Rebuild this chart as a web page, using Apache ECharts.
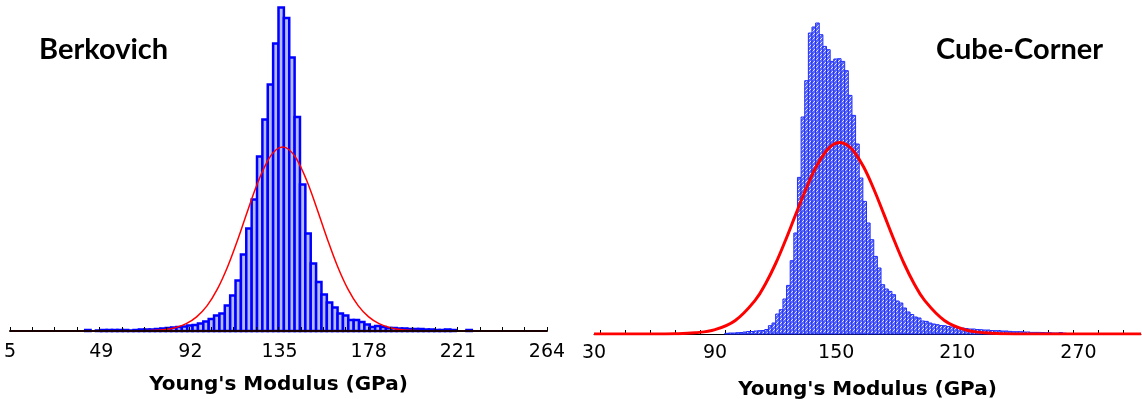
<!DOCTYPE html>
<html>
<head>
<meta charset="utf-8">
<script src="https://cdn.jsdelivr.net/npm/echarts@6/dist/echarts.min.js"></script>
<style>
  html, body { margin: 0; padding: 0; background: #fff; }
  #chart { width: 1142px; height: 399px; }
</style>
</head>
<body>
<div id="chart"></div>
<script>
// Berkovich histogram: 100 bins of 2.59 GPa starting at 5 GPa
const berkBinStart = 5;
const berkBinWidth = 2.59;
const berkCounts = [
  0, 0, 0, 0, 0, 0, 0, 0, 0, 0, 0, 0, 0, 0, 1, 0, 0.5, 1, 1, 1,
  1, 1, 0.5, 1, 1.5, 1.5, 1.5, 2, 2.5, 3, 3.5, 4, 4.5, 5.5, 6, 7.5, 9.5, 12, 15.5, 17.5,
  25.5, 35.5, 50.5, 76.5, 102.5, 131.5, 174.5, 211.5, 246.5, 287.5, 323.5, 313, 273.5, 214, 146.5, 97.5, 67.5, 49, 36.5, 28.5,
  23.5, 17.5, 15.5, 11, 11, 9, 6.5, 4, 5, 4, 3, 3, 2.5, 2.5, 2, 2, 2, 1.5, 1.5, 1,
  1, 1.5, 1, 0, 0, 1, 0, 0, 0, 0, 0, 0, 0, 0, 0, 0, 0, 0, 0, 0
];
// fitted normal curve
const berkFitX = [5, 60, 70, 80, 85, 90, 95, 100, 105, 110, 115, 120, 125, 130, 133.5, 136.5, 139.5, 143, 148, 153, 158, 163, 168, 173, 178, 183, 188, 193, 203, 213, 264];
const berkFitY = [0, 0, 0.3, 1.6, 3.5, 7.3, 14.1, 25.1, 41.8, 64.5, 92.3, 122.6, 151, 172.8, 181.5, 184, 181.5, 172.8, 151, 122.6, 92.3, 64.5, 41.8, 25.1, 14.1, 7.3, 3.5, 1.6, 0.3, 0, 0];
const berkTickLabels = [5, 49, 92, 135, 178, 221, 264];

// Cube-Corner histogram: 150 bins of 1.8 GPa starting at 30 GPa
const cubeBinStart = 30;
const cubeBinWidth = 1.8;
const cubeCounts = [
  0, 0, 0, 0, 0, 0, 0, 0, 0, 0, 0, 0, 0, 0, 0, 0, 0, 0, 0, 0,
  0, 0, 0, 0, 0, 0, 0, 0, 0, 0, 0, 0, 0, 0, 0, 0, 0.7, 1, 1, 1.3,
  1.5, 2, 2.5, 2.5, 3, 3.3, 3.5, 4.5, 8.3, 11, 20, 24.3, 35, 48.6, 73.3, 101, 156.6, 217, 253.3, 301,
  307, 311, 299.3, 287.6, 284.3, 272.6, 275, 275.3, 272.6, 263.3, 238.6, 218.6, 190, 156, 132.6, 111, 94.3, 77.6, 66, 49.3,
  45, 42.6, 39.3, 33, 31, 26, 22, 19.5, 17, 16, 13, 12.6, 11, 10, 9.3, 8.5, 8.3, 7.5, 7, 6.5,
  6, 6, 5.5, 5, 5, 4.5, 4.3, 4, 4, 3.5, 3.3, 3.3, 3, 3, 2.6, 2.3, 2.3, 2.3, 2, 2,
  1.6, 1.6, 1.6, 1.5, 1.3, 1.3, 1, 1, 1.5, 0.8, 0.5, 0.4, 0.4, 0.4, 0.4, 0.4, 0, 0, 0, 0,
  0, 0, 0, 0, 0, 0, 0, 0, 0, 0
];
const cubeFitX = [30, 60, 70, 80, 90, 100, 110, 115, 120, 125, 130, 135, 140, 145, 148.5, 151.8, 155, 158.6, 163.6, 168.6, 173.6, 178.6, 183.6, 188.6, 193.6, 203.6, 213.6, 223.6, 233.6, 243.6, 301];
const cubeFitY = [0, 0, 0.2, 1.2, 4.4, 13.5, 34.1, 50.3, 70.5, 94.3, 119.9, 145, 167, 183, 189.5, 191.6, 189.5, 183, 167, 145, 119.9, 94.3, 70.5, 50.3, 34.1, 13.5, 4.4, 1.2, 0.2, 0, 0];
const cubeTickLabels = [30, 90, 150, 210, 270];

function toBins(start, width, counts) {
  return counts.map((c, i) => [start + i * width, start + (i + 1) * width, c]);
}

function zip(xs, ys) {
  return xs.map((x, i) => [x, ys[i]]);
}

function tickList(start, step, end) {
  const out = [];
  for (let v = start; v <= end + 1e-6; v += step) out.push(+v.toFixed(3));
  return out;
}

function hatch() {
  const c = document.createElement('canvas');
  c.width = 4;
  c.height = 4;
  const g = c.getContext('2d');
  g.fillStyle = '#5b69f2';
  g.fillRect(0, 0, 4, 4);
  g.strokeStyle = '#e8ebff';
  g.lineWidth = 1;
  g.beginPath();
  g.moveTo(0, 4);
  g.lineTo(4, 0);
  g.stroke();
  return c;
}

function histItem(style) {
  return function (params, api) {
    const h = api.value(2);
    if (!h) return null;
    const a = api.coord([api.value(0), h]);
    const b = api.coord([api.value(1), 0]);
    return {
      type: 'rect',
      shape: { x: a[0], y: a[1], width: b[0] - a[0], height: b[1] - a[1] },
      style: style
    };
  };
}

const labelStyle = { fontFamily: 'DejaVu Sans', fontSize: 19, color: '#000' };
const nameStyle = { fontFamily: 'DejaVu Sans', fontWeight: 'bold', fontSize: 20, color: '#000' };

const chart = echarts.init(document.getElementById('chart'));

chart.setOption({
  animation: false,
  backgroundColor: '#fff',
  title: [
    { text: 'Berkovich', left: 34, top: 30, textStyle: { fontFamily: 'Lato', fontWeight: 'bold', fontSize: 29, color: '#000' } },
    { text: 'Cube-Corner', left: 931, top: 30, textStyle: { fontFamily: 'Lato', fontWeight: 'bold', fontSize: 29, color: '#000' } }
  ],
  grid: [
    { left: 10, width: 537, top: 0, bottom: 68, outerBoundsMode: 'none' },
    { left: 594, width: 547, top: 0, bottom: 65, outerBoundsMode: 'none' }
  ],
  xAxis: [
    {
      type: 'value', gridIndex: 0, min: 5, max: 264, z: 5,
      name: "Young's Modulus (GPa)", nameLocation: 'middle', nameGap: 44, nameTextStyle: nameStyle,
      axisLine: { show: true, lineStyle: { color: '#1a0000', width: 2 } },
      axisTick: { show: true, inside: true, length: 4, lineStyle: { color: '#000' }, customValues: tickList(5, 10.79, 264) },
      axisLabel: { ...labelStyle, margin: 12, showMinLabel: true, showMaxLabel: true, customValues: berkTickLabels },
      splitLine: { show: false }
    },
    {
      type: 'value', gridIndex: 1, min: 30, max: 301,
      name: "Young's Modulus (GPa)", nameLocation: 'middle', nameGap: 46, nameTextStyle: nameStyle,
      axisLine: { show: true, lineStyle: { color: '#000', width: 1 } },
      axisTick: { show: true, inside: true, length: 4, lineStyle: { color: '#000' }, customValues: tickList(33.3, 12.33, 296) },
      axisLabel: { ...labelStyle, margin: 10, showMinLabel: true, customValues: cubeTickLabels },
      splitLine: { show: false }
    }
  ],
  yAxis: [
    { type: 'value', gridIndex: 0, min: 0, max: 331, show: false },
    { type: 'value', gridIndex: 1, min: 0, max: 334, show: false }
  ],
  series: [
    {
      type: 'custom', xAxisIndex: 0, yAxisIndex: 0,
      encode: { x: [0, 1], y: 2 },
      renderItem: histItem({ fill: '#b4bbf5', stroke: '#0000ff', lineWidth: 2.5 }),
      data: toBins(berkBinStart, berkBinWidth, berkCounts)
    },
    {
      type: 'line', xAxisIndex: 0, yAxisIndex: 0, z: 3,
      showSymbol: false, smooth: 0.4,
      lineStyle: { color: '#ff0000', width: 1.5 },
      data: zip(berkFitX, berkFitY)
    },
    {
      type: 'custom', xAxisIndex: 1, yAxisIndex: 1,
      encode: { x: [0, 1], y: 2 },
      renderItem: histItem({ fill: { image: hatch(), repeat: 'repeat' }, stroke: '#1f2dff', lineWidth: 1 }),
      data: toBins(cubeBinStart, cubeBinWidth, cubeCounts)
    },
    {
      type: 'line', xAxisIndex: 1, yAxisIndex: 1, z: 3,
      showSymbol: false, smooth: 0.4,
      lineStyle: { color: '#ff0000', width: 3 },
      data: zip(cubeFitX, cubeFitY)
    }
  ]
});
</script>
</body>
</html>
